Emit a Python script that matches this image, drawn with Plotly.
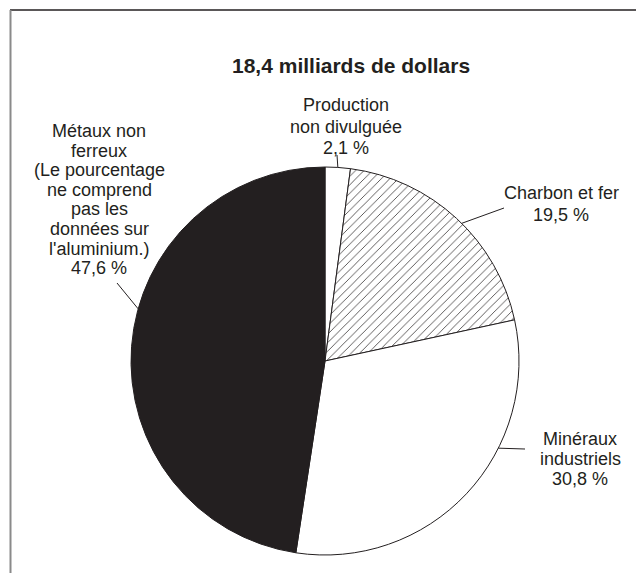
import math
import plotly.graph_objects as go

# ---- data -------------------------------------------------------------
title_text = "18,4 milliards de dollars"
categories = ["Production non divulguée", "Charbon et fer",
              "Minéraux industriels", "Métaux non ferreux"]
shares = [2.1, 19.5, 30.8, 47.6]  # per cent of total value
label_lines = [
    ["Production", "non divulguée"],
    ["Charbon et fer"],
    ["Minéraux", "industriels"],
    ["Métaux non", "ferreux", "(Le pourcentage", "ne comprend",
     "pas les", "données sur", "l'aluminium.)"],
]

# ---- styling ------------------------------------------------------------
W, H = 636, 573
INK = "#231f20"
FONT = "Liberation Sans, Arial, Helvetica, sans-serif"
slice_fill = ["white", "white", "white", INK]
slice_pattern = ["", "/", "", ""]

# pie geometry in pixels
CX, CY, R = 325, 361, 194

# label blocks: centre x, first-line y, line step (pixels)
label_pos = [(346, 105, 21.5), (561, 193, 22), (580, 439, 20), (99, 131, 19.6)]
# leader lines: angle on the rim (deg clockwise from 12 o'clock), outer end
leaders = [(3.8, (337, 155)), (44.8, (504, 208)),
           (116.7, (525, 449)), (285.6, (117, 283))]


def px(x):
    return x / W


def py(y):
    return 1 - y / H


def pct(v):
    return f"{v:.1f}".replace(".", ",") + " %"


fig = go.Figure()
fig.add_trace(go.Pie(
    labels=categories,
    values=shares,
    sort=False,
    direction="clockwise",
    rotation=0,
    textinfo="none",
    hoverinfo="label+percent",
    showlegend=False,
    marker=dict(
        colors=slice_fill,
        line=dict(color=INK, width=1),
        pattern=dict(shape=slice_pattern, fgcolor=INK, bgcolor="white",
                     size=6, solidity=0.12),
    ),
    domain=dict(x=[px(CX - R), px(CX + R)], y=[py(CY + R), py(CY - R)]),
))

annotations = [dict(
    text=f"<b>{title_text}</b>", x=px(351), y=py(65), xref="paper", yref="paper",
    showarrow=False, xanchor="center", yanchor="middle",
    font=dict(family=FONT, size=21, color=INK),
)]
for lines, v, (lx, ly, step) in zip(label_lines, shares, label_pos):
    for i, line in enumerate(lines + [pct(v)]):
        annotations.append(dict(
            text=line, x=px(lx), y=py(ly + i * step), xref="paper", yref="paper",
            showarrow=False, xanchor="center", yanchor="middle",
            font=dict(family=FONT, size=18, color=INK),
        ))

shapes = [
    # frame: top rule and left rule
    dict(type="line", xref="paper", yref="paper", x0=px(10), x1=1,
         y0=py(10), y1=py(10), line=dict(color=INK, width=1.5)),
    dict(type="line", xref="paper", yref="paper", x0=px(10.5), x1=px(10.5),
         y0=py(10), y1=0, line=dict(color="#8a8a8a", width=2)),
]
for ang, (ox, oy) in leaders:
    a = math.radians(ang)
    rx, ry = CX + R * math.sin(a), CY - R * math.cos(a)
    shapes.append(dict(type="line", xref="paper", yref="paper",
                       x0=px(rx), y0=py(ry), x1=px(ox), y1=py(oy),
                       line=dict(color=INK, width=1)))

fig.update_layout(
    width=W, height=H,
    margin=dict(l=0, r=0, t=0, b=0),
    paper_bgcolor="white", plot_bgcolor="white",
    annotations=annotations, shapes=shapes,
)

fig.write_html("out.html")
